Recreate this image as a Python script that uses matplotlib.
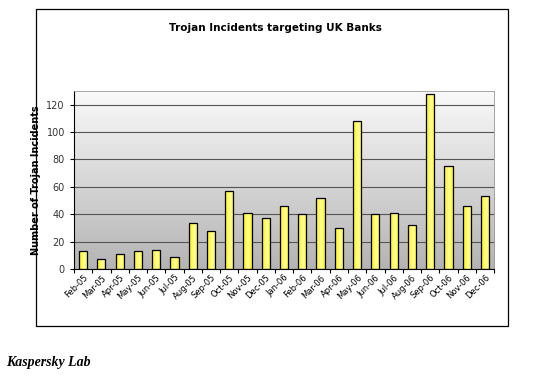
import numpy as np
import matplotlib.pyplot as plt
from matplotlib.patches import Rectangle
from matplotlib.colors import LinearSegmentedColormap

months = ["Feb-05", "Mar-05", "Apr-05", "May-05", "Jun-05", "Jul-05", "Aug-05",
          "Sep-05", "Oct-05", "Nov-05", "Dec-05", "Jan-06", "Feb-06", "Mar-06",
          "Apr-06", "May-06", "Jun-06", "Jul-06", "Aug-06", "Sep-06", "Oct-06",
          "Nov-06", "Dec-06"]
incidents = [13, 7, 11, 13, 14, 9, 34, 28, 57, 41, 37, 46, 40, 52,
             30, 108, 40, 41, 32, 128, 75, 46, 53]
yticks = [0, 20, 40, 60, 80, 100, 120]

fig = plt.figure(figsize=(5.4, 3.79), dpi=100)
fig.patch.set_facecolor("white")

# outer chart frame
fig.patches.append(Rectangle((0.067, 0.140), 0.874, 0.836, transform=fig.transFigure,
                             fill=False, edgecolor="black", linewidth=0.9))

ax = fig.add_axes([0.137, 0.290, 0.778, 0.470])
x = np.arange(len(months))
ax.set_xlim(-0.5, len(months) - 0.5)
ax.set_ylim(0, 130)

# grey gradient plot background
bg = np.linspace(0, 1, 256).reshape(-1, 1)
bg_cmap = LinearSegmentedColormap.from_list("bg", ["#b4b4b4", "#fafafa"])
ax.imshow(bg, cmap=bg_cmap, aspect="auto", origin="lower",
          extent=[-0.5, len(months) - 0.5, 0, 130], zorder=0)

ax.set_yticks(yticks)
ax.grid(axis="y", color="#555555", linewidth=0.8, zorder=1)

# bars with a horizontal yellow gradient
bar_cmap = LinearSegmentedColormap.from_list(
    "bar", [(0, "#ffee00"), (0.6, "#ffffa8"), (1, "#fff000")])
grad = np.linspace(0, 1, 64).reshape(1, -1)
w = 0.45
bars = ax.bar(x, incidents, width=w, facecolor="none", edgecolor="black",
              linewidth=0.9, zorder=3)
for b in bars:
    im = ax.imshow(grad, cmap=bar_cmap, aspect="auto",
                   extent=[b.get_x(), b.get_x() + b.get_width(), 0, b.get_height()],
                   zorder=2)
    im.set_clip_path(b)

ax.set_xticks(np.arange(len(months) + 1) - 0.5, minor=False)
ax.set_xticklabels([])
ax.set_xticks(x, minor=True)
ax.set_xticklabels(months, minor=True, rotation=45, ha="right",
                   rotation_mode="anchor", fontsize=6)
ax.tick_params(axis="x", which="minor", length=0, pad=3)
ax.tick_params(axis="x", which="major", length=3, direction="out")
ax.tick_params(axis="y", length=3, labelsize=7, colors="black")
for lbl in ax.get_yticklabels():
    lbl.set_color("#333333")

for s in ["top", "right"]:
    ax.spines[s].set_color("#999999")
    ax.spines[s].set_linewidth(0.6)
for s in ["left", "bottom"]:
    ax.spines[s].set_color("black")

ax.set_ylabel("Number of Trojan Incidents", fontsize=7, fontweight="bold", labelpad=4)
fig.text(0.51, 0.925, "Trojan Incidents targeting UK Banks", ha="center",
         va="center", fontsize=7.5, fontweight="bold")

fig.text(0.012, 0.035, "Kaspersky Lab", fontsize=10, fontstyle="italic",
         fontweight="bold", family="Liberation Serif")

fig.savefig("out.png", dpi=100)
